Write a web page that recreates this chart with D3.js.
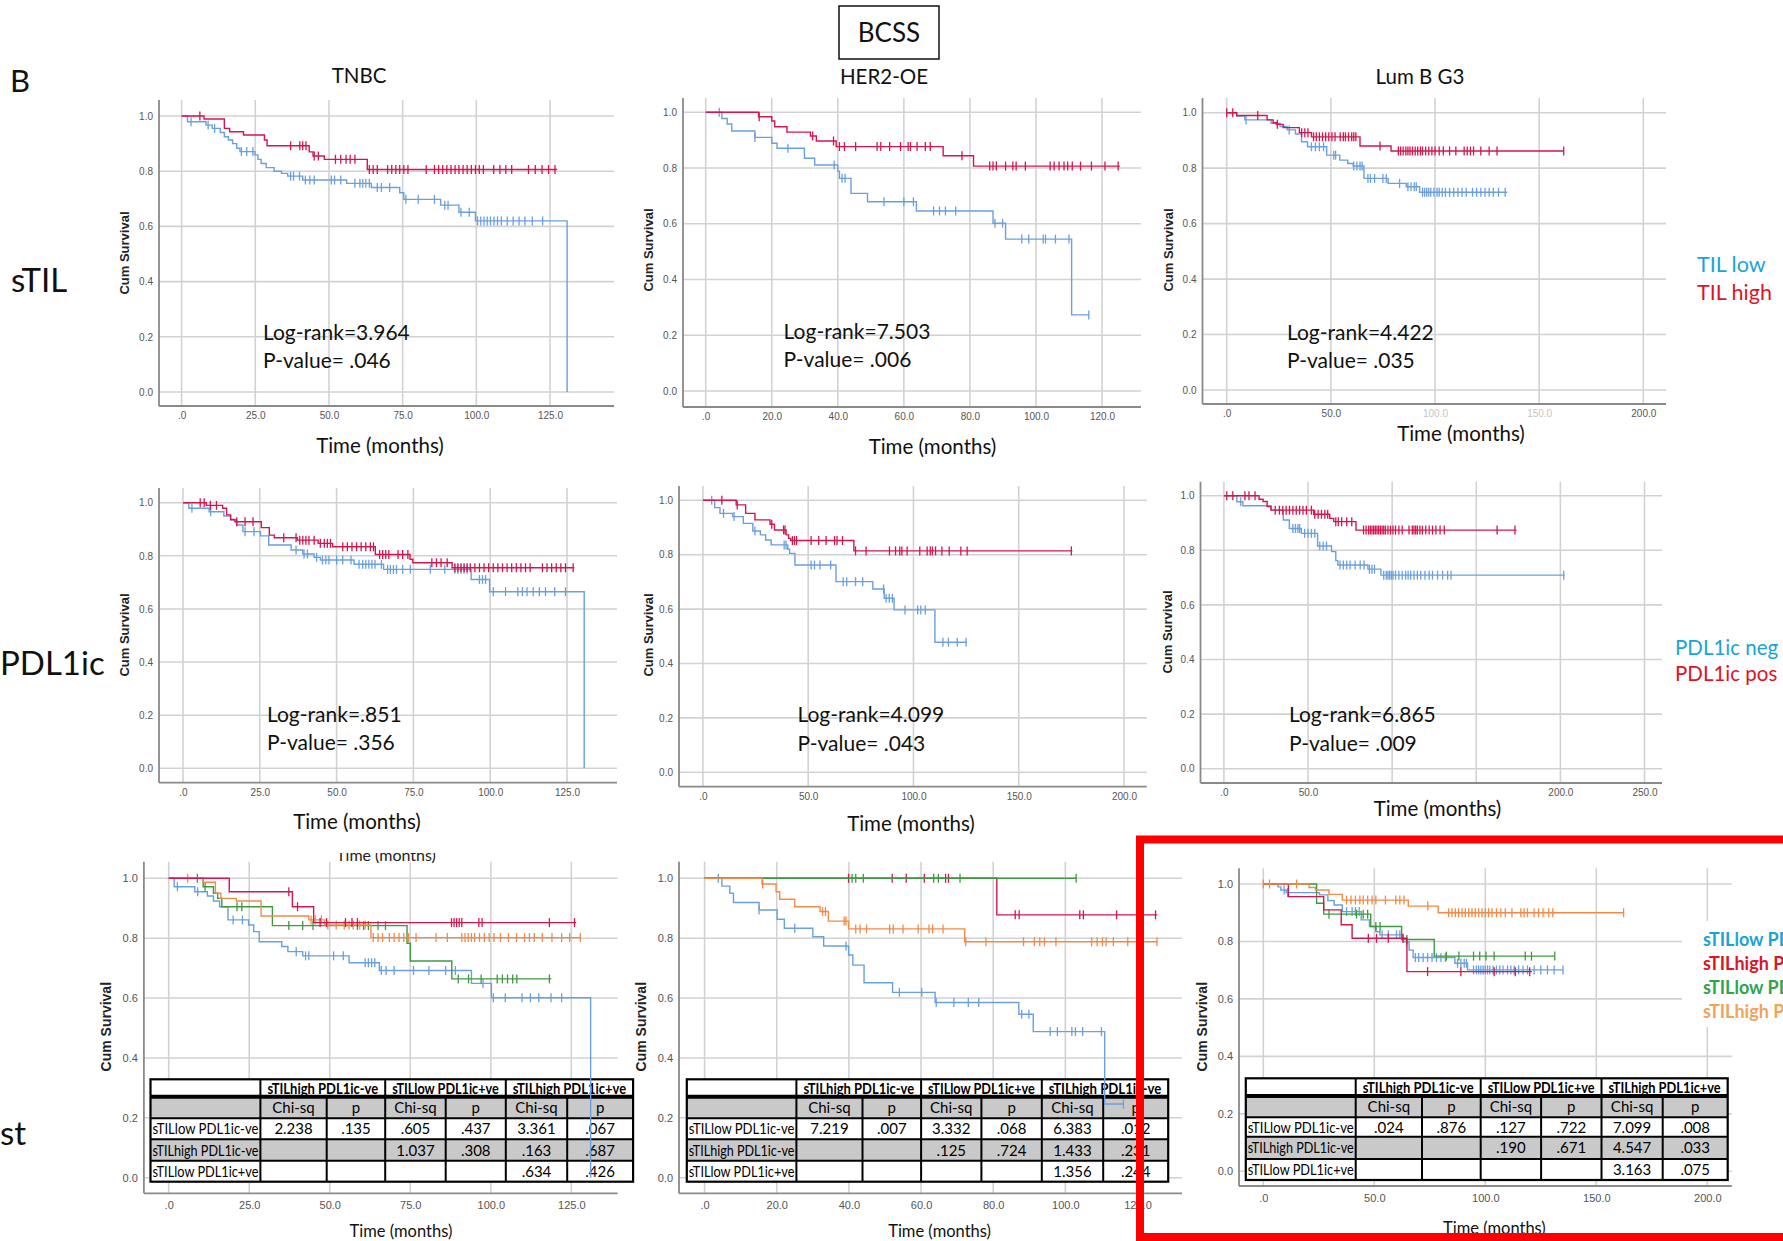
<!DOCTYPE html>
<html><head><meta charset="utf-8">
<script src="https://cdn.jsdelivr.net/npm/d3@7"></script>
<style>body{margin:0;background:#fff}svg{display:block}</style>
</head><body>
<svg id="c" width="1783" height="1241"></svg>
<script>
// ---------------- DATA ----------------
const subtypes = ["TNBC", "HER2-OE", "Lum B G3"];
const rowLabels = ["sTIL", "PDL1ic", "st"];
const logRank = ["3.964", "7.503", "4.422", ".851", "4.099", "6.865"];
const pValues = [".046", ".006", ".035", ".356", ".043", ".009"];
const legendTIL = ["TIL low", "TIL high"];
const legendPDL = ["PDL1ic neg", "PDL1ic pos"];
const legendCombo = ["sTILlow PDL1ic-ve", "sTILhigh PDL1ic-ve", "sTILlow PDL1ic+ve", "sTILhigh PDL1ic+ve"];
const tableGroups = ["sTILhigh PDL1ic-ve", "sTILlow PDL1ic+ve", "sTILhigh PDL1ic+ve"];
const tableGroupsC2 = ["sTILhigh PDL1ic-ve", "sTILlow PDL1ic+ve", "sTILhigh PDL1ic-ve"];
const tableSub = ["Chi-sq", "p", "Chi-sq", "p", "Chi-sq", "p"];
const tableRowNames = ["sTILlow PDL1ic-ve", "sTILhigh PDL1ic-ve", "sTILlow PDL1ic+ve"];
const tableC1 = [["2.238", ".135", ".605", ".437", "3.361", ".067"], ["", "", "1.037", ".308", ".163", ".687"], ["", "", "", "", ".634", ".426"]];
const tableC2 = [["7.219", ".007", "3.332", ".068", "6.383", ".012"], ["", "", ".125", ".724", "1.433", ".231"], ["", "", "", "", "1.356", ".244"]];
const tableC3 = [[".024", ".876", ".127", ".722", "7.099", ".008"], ["", "", ".190", ".671", "4.547", ".033"], ["", "", "", "", "3.163", ".075"]];

// Row 1 : sTIL
const A1_low_steps = [[0,1],[2,0.979],[8.3,0.967],[10.4,0.955],[13.1,0.94],[14.5,0.925],[15.9,0.913],[17.3,0.9],[18.7,0.883],[19.8,0.871],[24.9,0.859],[25.9,0.843],[27,0.828],[28.7,0.813],[31.4,0.8],[33.9,0.792],[36,0.782],[41.1,0.768],[56,0.756],[64.4,0.741],[74,0.722],[75.4,0.698],[87.9,0.677],[94.1,0.651],[99.7,0.62],[130.8,0]];
const A1_low_cens = [3.2,9,11.2,20.3,22.1,24.2,37,38,40,42,43.5,45,50.8,51.9,54,58.8,60.5,61.5,62.5,63.7,66.4,67.8,70.6,76.1,80.3,85.8,89.3,90.4,94.8,97.6,100.4,101.5,102.6,103.7,104.8,106,107.2,108.5,110.5,112.5,114.5,116.5,119,122.5];
const A1_low_end = 130.8;
const A1_high_steps = [[0,1],[7.6,0.989],[14.5,0.955],[16.3,0.943],[21,0.931],[28.1,0.913],[29,0.892],[43.3,0.87],[44.6,0.855],[48.4,0.843],[63,0.806]];
const A1_high_cens = [6.2,37,40.1,41.1,42.2,45,46.4,52.2,54,55.8,57.2,58.8,63.7,65,66.4,69.9,71.3,72.7,74,75.4,76.8,83,85.8,87.2,88.6,90,91.4,92.8,94.1,95.5,96.9,98.3,99.7,101,102.4,105.9,108,110,112,117.7,120,122.3,124.5,126.7];
const A1_high_end = 127.4;

const A2_low_steps = [[0,1],[4.9,0.978],[6.5,0.958],[7.9,0.933],[14.9,0.91],[20,0.889],[21.6,0.871],[29.9,0.835],[33,0.811],[40,0.789],[40.5,0.763],[44,0.709],[49,0.679],[63.8,0.646],[87,0.602],[90.8,0.545],[110.8,0.273]];
const A2_low_cens = [4.1,14.9,24.9,38.9,41.3,42.2,54,60,62.9,69,70.8,72.6,75.7,87.6,89.9,95.7,97.8,102.2,102.9,105.9,110,116];
const A2_low_end = 116;
const A2_high_steps = [[0,1],[16,0.984],[20,0.969],[20.9,0.948],[24.6,0.929],[31.7,0.915],[33.5,0.897],[39.5,0.877],[71.9,0.844],[81.1,0.807]];
const A2_high_cens = [16.2,32.4,38.7,40.5,42,45.4,51.9,53,55.7,59,61.3,62,64,66.5,68,77.6,86,87,88,90.8,93,94,96.8,104.3,105.5,107,108.5,109.6,111,113.5,116.8,120.9,124.9];
const A2_high_end = 125.4;

const A3_low_steps = [[0,1],[4.8,0.988],[8.7,0.974],[21.3,0.962],[25.6,0.95],[29,0.938],[33,0.923],[35.9,0.895],[38.8,0.877],[48,0.847],[54.3,0.829],[58.1,0.817],[60.7,0.808],[65.9,0.763],[77.5,0.745],[86.2,0.733],[92.6,0.713]];
const A3_low_cens = [9.3,30,40.7,42.6,44.5,46.5,51.4,52.3,61,62.5,64,65,67.8,69,71,75,76.6,83,87,88.5,90,91,94,95,96,97,98,99.5,101,102,103.5,105,107,109,111,113,115,118,120,122,124,126,128,130.5,133.7];
const A3_low_end = 134.7;
const A3_high_steps = [[0,1],[4.8,0.99],[19.4,0.974],[22.3,0.964],[23.8,0.958],[27.1,0.946],[34.9,0.928],[40.7,0.913],[64,0.88],[78.9,0.862]];
const A3_high_cens = [0,2.9,14.9,24.3,36,37.5,39,41.7,43,44.5,46,47.5,49,50.5,52,54.5,56,57,58.5,60,61,62,73.6,82.4,83.5,84.7,86,87,88,89.2,90.5,91.7,93,94,95.5,97,98.5,100,102,104,107,110,114,115.5,117,118.5,122,126,129.8,161.8];
const A3_high_end = 161.8;

// Row 2 : PDL1ic
const B1_neg_steps = [[0,1],[1.9,0.979],[8.5,0.966],[13.3,0.95],[15.5,0.935],[17.5,0.916],[19.5,0.891],[25.2,0.875],[27.9,0.841],[35.2,0.822],[39,0.807],[42.7,0.794],[44.7,0.784],[55.7,0.768],[65.3,0.749],[93.8,0.711],[99.8,0.665],[130.6,0]];
const B1_neg_cens = [2.9,9,20.2,23.1,36.8,39.4,40.5,43.5,45.4,46.5,47.5,50,52,54.7,57.3,58.5,59.5,60.5,61.5,62.5,64.6,66.6,67.5,68.5,69.5,71.5,74,80.5,85.2,88.5,89.5,90.5,91.5,92.5,96.5,97.5,98.5,101,105,109,110.5,112,114,116,118,121,124.5];
const B1_neg_end = 130.6;
const B1_pos_steps = [[0,1],[7.6,0.99],[12.9,0.979],[14.2,0.954],[15.5,0.937],[16.9,0.928],[25.5,0.906],[28.1,0.878],[29.7,0.868],[37.2,0.859],[44,0.847],[48.7,0.834],[62.6,0.805],[73.9,0.787],[74.8,0.774],[87.6,0.755]];
const B1_pos_cens = [5.6,6.9,8.9,10.9,17.5,20.2,22.8,32.8,36.8,38,39,40,41,42.7,44.7,46,47,48,52,53.5,55,56.5,58,59.5,61,62,64,65,66,67,70,71.5,73.2,81,82.5,84,86,88.5,89.5,90.5,91.5,92.5,93.5,95,96.5,98,99.5,101,102.5,104,105.5,107,108.5,110,111.5,113,117,118.5,120,121.5,123,124.5,127];
const B1_pos_end = 127.4;

const B2_neg_steps = [[0,1],[5.6,0.973],[8.1,0.952],[14.1,0.94],[19.2,0.915],[23.7,0.887],[27.3,0.873],[29.8,0.854],[32.4,0.836],[40.3,0.82],[41.2,0.805],[43.7,0.762],[63.2,0.701],[80.7,0.674],[86.1,0.64],[90.8,0.597],[110.2,0.478]];
const B2_neg_cens = [4.2,9.8,14.8,24.7,38.6,39.5,51.4,53,55.6,60.7,66.6,68.3,72.5,75.9,85.8,87,88.5,90,96,102,103.5,105.6,114,116.6,120.8,125];
const B2_neg_end = 125.4;
const B2_pos_steps = [[0,1],[15.8,0.983],[20.3,0.952],[24.7,0.928],[31.9,0.912],[34,0.891],[39.5,0.873],[40.7,0.86],[41.7,0.852],[71.7,0.814]];
const B2_pos_cens = [9,16.3,32.7,38.3,39,42.5,43.5,44.5,51.4,55,58.5,62.5,63.7,66.3,72.5,77.5,88.6,91.5,93.5,94.5,97,103,106.5,108,109,110.5,113.5,117,122.5,125.5,175];
const B2_pos_end = 175.5;

const B3_neg_steps = [[0,1],[7.7,0.978],[11.3,0.963],[28,0.947],[35.3,0.911],[38.9,0.88],[46,0.862],[55.7,0.816],[64,0.795],[66.5,0.762],[67.7,0.746],[85.6,0.731],[93.3,0.709]];
const B3_neg_cens = [10,41,42.5,44,45,48,50,52,54,57,59,61,69,71,73,75,78,81,83.3,86.5,88,89.5,95,96.5,97.5,98.5,99.5,100.5,102,104,106,108,109.5,111,113,115,117,119.5,122,124,127,130,133,135,202];
const B3_neg_end = 202.5;
const B3_pos_steps = [[0,1],[20.9,0.987],[23.3,0.979],[25.7,0.96],[28,0.947],[53.3,0.932],[62.9,0.917],[65.3,0.905],[78.5,0.874]];
const B3_pos_cens = [1.7,5.3,12.5,14.9,18.5,30.5,33,35,37,39,41,43,45,47,49,52,54,56,58,60,61.7,66.5,68,70,73,76,83,84.5,86,87,88,89,90,91,92,93,94,95,96,97.5,99,100.5,102,104,106,110,112,113,114,115,116.5,118,120,122,124,126,128.5,131,162.4,173];
const B3_pos_end = 174;

// Row 3 : combined groups
const C1_lowneg_steps = [[0,1],[1.7,0.972],[8.1,0.955],[12,0.941],[13.9,0.924],[15.8,0.905],[18.4,0.861],[24.8,0.844],[26.4,0.822],[28.1,0.788],[35.1,0.772],[37,0.755],[41.6,0.741],[56,0.718],[65.4,0.692],[94,0.649],[100.2,0.601],[131,0]];
const C1_lowneg_cens = [2.7,9,20,22.9,39.6,42.5,43.5,51.2,54.2,61,62,63,64,66,67.5,70,76,80.8,86,89,97.6,100.8,104.5,109.7,112.3,114.9,118.7,122];
const C1_lowneg_end = 131;
const C1_highneg_steps = [[0,1],[18.8,0.955],[38.4,0.905],[45,0.852]];
const C1_highneg_cens = [37.3,40,47,49,54.9,56.9,58.6,87.8,88.6,89.4,90.2,91,96.3,97.3,118.2,126];
const C1_highneg_end = 126.5;
const C1_lowpos_steps = [[0,1],[10.7,0.972],[13.9,0.95],[15.2,0.933],[16.5,0.905],[32.2,0.842],[74,0.783],[75,0.724],[87.9,0.664]];
const C1_lowpos_cens = [8.9,11.3,21.2,22.7,37.3,41.6,44.8,58.6,60.5,62,65,67.3,89.9,93.1,97,102,103.6,105.2,106.8,108.1,118.2];
const C1_lowpos_end = 118.8;
const C1_highpos_steps = [[0,1],[10.7,0.987],[14.5,0.95],[16.2,0.933],[21,0.924],[28.7,0.874],[43.5,0.861],[48.4,0.844],[62.8,0.802]];
const C1_highpos_cens = [5.9,44.2,45.5,47.4,49.4,52,54.5,56,57.3,59.3,61,63.5,65,66.4,68.5,70,71.5,73,74.5,76.8,83,86.5,91,92,93,94,95,96.5,98,99.5,101,103,105.5,108,110.5,112,113.5,116,119,122,124.5,127.8];
const C1_highpos_end = 128;

const C2_lowneg_steps = [[0,1],[4.8,0.974],[7,0.95],[8,0.919],[15.1,0.894],[20.1,0.863],[22.1,0.833],[30,0.805],[33,0.774],[39.9,0.744],[41.1,0.71],[44.2,0.651],[52.1,0.619],[63.9,0.585],[87.1,0.546],[91.1,0.488],[110.9,0.246]];
const C2_lowneg_cens = [3.8,15.1,25,39.2,54,60.2,64.2,69.1,73.1,76,87.9,89.9,95.8,97.8,101.8,102.8,104.8,110,116.1];
const C2_lowneg_end = 116.1;
const C2_highneg_steps = [[0,1],[81,0.878]];
const C2_highneg_cens = [39.9,52,55.9,60.9,66.8,67.6,86.1,87.2,104,105,114.2,125];
const C2_highneg_end = 125.5;
const C2_lowpos_steps = [[0,1]];
const C2_lowpos_cens = [40.9,41.9,44,63.5,64.8,70.8,103];
const C2_lowpos_end = 103;
const C2_highpos_steps = [[0,1],[15.9,0.981],[19.8,0.955],[20.8,0.93],[25,0.905],[32,0.889],[34.3,0.857],[39.9,0.831],[72.1,0.788]];
const C2_highpos_cens = [16.1,32.7,33.5,38.7,39.2,41.9,43.1,44.9,51.3,52.3,55,59.2,62.2,63.2,66.1,72.4,78,88.4,91.4,92.9,94.2,97.4,107.3,108.8,110.3,111.3,113.3,117.3,125.4];
const C2_highpos_end = 125.5;

const C3_lowneg_steps = [[0,1],[6.6,0.99],[7.9,0.979],[10.3,0.97],[25.3,0.962],[29.1,0.942],[31.9,0.927],[35.6,0.904],[44.1,0.875],[47.8,0.852],[50.7,0.834],[52.5,0.823],[62.9,0.799],[65.7,0.77],[67.5,0.744],[86.3,0.724],[92,0.701]];
const C3_lowneg_cens = [9.4,11,37.5,40,41.5,43.2,53.5,56.3,60,61.5,64.5,68.5,70,72,74,76,78,80,82,87.5,89,90.5,91.5,94.7,96,97,98,99,100,101,102,103.5,105,106.5,108,110,111.5,113,115,117,119,122,125,128,131,135];
const C3_lowneg_end = 135;
const C3_highneg_steps = [[0,1],[11.3,0.956],[27.2,0.91],[35.1,0.858],[40,0.811],[64.7,0.695]];
const C3_highneg_cens = [47.3,51,56.3,62.9,74,89,104,113.5,120];
const C3_highneg_end = 121;
const C3_lowpos_steps = [[0,1],[24,0.933],[27.2,0.895],[48.4,0.852],[62.3,0.807],[77,0.749]];
const C3_lowpos_cens = [29.6,42,45,47,50.7,52.6,64.7,82.5,88.1,94.7,97.5,100.3,104,118,120.8,131.3];
const C3_lowpos_end = 131.3;
const C3_highpos_steps = [[0,1],[20.6,0.988],[23.5,0.979],[29.6,0.964],[35.6,0.944],[65.3,0.923],[78.8,0.9]];
const C3_highpos_cens = [0,2.8,15,37.5,39.5,41.5,43.5,45,47,49,50.7,55,59.7,61.5,63.4,74.1,83.5,85,86.5,88,89.5,91,92.5,94,95.5,97,98.5,100,101.5,103,105,107,109,112,116,117.5,119,122,124,126,128.5,130.4,162.3];
const C3_highpos_end = 162.3;

const yTickVals = [0, 0.2, 0.4, 0.6, 0.8, 1.0];

// ---------------- STYLE ----------------
const COL = {blue: "#6a9fe0", red: "#d3164e", green: "#3f9a3f", orange: "#f28a48"};
const LEG = {cyan: "#1ba3d8", red: "#dc1424", green: "#2ea44f", orange: "#f3a25c"};
const MAIN_FONT = "Lato, 'Open Sans', sans-serif";
const TICK_FONT = "'Liberation Sans Narrow', 'Arial Narrow', 'Liberation Sans', Arial, sans-serif";

// ---------------- LAYOUT ----------------
const P = {
  A1: {axisX:159, top:100, bottom:406, right:614, xd:[0,125], xr:[181.6,550], yr:[392,116], xt:[0,25,50,75,100,125], ylab:[124.5,253], xlab:[380,453,20.5], lr:[263,340,368]},
  A2: {axisX:683, top:98, bottom:407, right:1141, xd:[0,120], xr:[705.7,1102], yr:[391,112.3], xt:[0,20,40,60,80,100,120], ylab:[648.6,250], xlab:[932.5,454,20.5], lr:[783.6,339,367]},
  A3: {axisX:1202.5, top:98, bottom:404, right:1666, xd:[0,200], xr:[1226.7,1643.3], yr:[390,112.7], xt:[0,50,100,150,200], faint:[100,150], ylab:[1168,250], xlab:[1461,441,20.5], lr:[1287,340,368]},
  B1: {axisX:159, top:488, bottom:782.7, right:617, xd:[0,125], xr:[183,567], yr:[768.3,502.7], xt:[0,25,50,75,100,125], ylab:[124.5,635], xlab:[357,829,20.5], lr:[267,722,750]},
  B2: {axisX:679, top:486, bottom:786.7, right:1146.8, xd:[0,200], xr:[702.9,1124], yr:[772.3,500.3], xt:[0,50,100,150,200], ylab:[648.6,635], xlab:[911,831,20.5], lr:[797.5,722,750.7]},
  B3: {axisX:1200.5, top:481.7, bottom:783, right:1662, xd:[0,250], xr:[1223.9,1644.5], yr:[768.7,495.7], xt:[0,50,100,150,200,250], hide:[100,150], ylab:[1167,632], xlab:[1437.5,816,20.5], lr:[1289,722,751]},
  C1: {axisX:143.9, top:861.7, bottom:1193.3, right:617.7, xd:[0,125], xr:[168.7,571.3], yr:[1177.7,878.3], xt:[0,25,50,75,100,125], ylab:[105.7,1026.7], xlab:[401,1237,16.5],
       tcols:[150.5,260.4,326.7,385.2,445.7,505.8,567.2,633.1], trows:[1079.3,1096.7,1118.3,1139.3,1160.7,1181.7]},
  C2: {axisX:679, top:861.7, bottom:1193.3, right:1182, xd:[0,120], xr:[704.6,1137.5], yr:[1177.7,878.3], xt:[0,20,40,60,80,100,120], ylab:[641.4,1026.7], xlab:[939.6,1237,16.5],
       tcols:[686.8,796.4,862.5,921.1,981.4,1041.8,1103.2,1168.2], trows:[1079.3,1096.7,1118.3,1139.3,1160.7,1181.7]},
  C3: {axisX:1239, top:868.3, bottom:1186, right:1731.8, xd:[0,200], xr:[1263.3,1707.3], yr:[1171.3,884], xt:[0,50,100,150,200], ylab:[1201.6,1026.7], xlab:[1494.4,1234,16.5],
       tcols:[1245.8,1355.7,1422,1480.7,1541.1,1601.5,1662.7,1727.7], trows:[1078.3,1096,1117.3,1136.7,1159,1180]}
};

const svg = d3.select("#c");
svg.append("rect").attr("width", 1783).attr("height", 1241).attr("fill", "#fff");

function survAt(steps, t) {
  let s = steps[0][1];
  for (const d of steps) { if (d[0] <= t) s = d[1]; else break; }
  return s;
}

function drawTable(g, L, groups, data) {
  const c = L.tcols, r = L.trows;
  const tg = g.append("g");
  tg.append("rect").attr("x", c[0]).attr("y", r[1]).attr("width", c[7]-c[0]).attr("height", r[2]-r[1]).attr("fill", "#c9c9c9");
  tg.append("rect").attr("x", c[0]).attr("y", r[3]).attr("width", c[7]-c[0]).attr("height", r[4]-r[3]).attr("fill", "#c9c9c9");
  [[r[0],r[1]],[r[2],r[3]],[r[4],r[5]]].forEach(([a,b]) =>
    tg.append("rect").attr("x", c[0]).attr("y", a).attr("width", c[7]-c[0]).attr("height", b-a).attr("fill", "#fff"));
  groups.forEach((txt, i) => {
    const x0 = c[1+2*i], x1 = c[3+2*i];
    tg.append("text").attr("x", (x0+x1)/2).attr("y", (r[0]+r[1])/2 + 5.5).attr("text-anchor", "middle")
      .attr("font-family", MAIN_FONT).attr("font-weight", "bold").attr("font-size", 15)
      .attr("textLength", x1-x0-14).attr("lengthAdjust", "spacingAndGlyphs").text(txt);
  });
  tableSub.forEach((txt, i) => {
    tg.append("text").attr("x", (c[1+i]+c[2+i])/2).attr("y", (r[1]+r[2])/2 + 5.5).attr("text-anchor", "middle")
      .attr("font-family", MAIN_FONT).attr("font-size", 15).text(txt);
  });
  tableRowNames.forEach((txt, j) => {
    const yy = (r[2+j]+r[3+j])/2 + 5.5;
    tg.append("text").attr("x", c[0]+2).attr("y", yy).attr("font-family", MAIN_FONT).attr("font-size", 15)
      .attr("textLength", c[1]-c[0]-4).attr("lengthAdjust", "spacingAndGlyphs").text(txt);
    data[j].forEach((v, i) => {
      if (!v) return;
      tg.append("text").attr("x", (c[1+i]+c[2+i])/2).attr("y", yy).attr("text-anchor", "middle")
        .attr("font-family", MAIN_FONT).attr("font-size", 15).text(v);
    });
  });
  const ln = (x1,y1,x2,y2,w) => tg.append("line").attr("x1",x1).attr("y1",y1).attr("x2",x2).attr("y2",y2).attr("stroke","#000").attr("stroke-width",w);
  [r[2], r[3], r[4]].forEach(yy => ln(c[0], yy, c[7], yy, 2));
  ln(c[0], r[1], c[7], r[1], 4);
  [1,3,5].forEach(i => ln(c[i], r[0], c[i], r[1], 2));
  [1,2,3,4,5,6].forEach(i => ln(c[i], r[1], c[i], r[5], 2));
  tg.append("rect").attr("x", c[0]).attr("y", r[0]).attr("width", c[7]-c[0]).attr("height", r[5]-r[0])
    .attr("fill", "none").attr("stroke", "#000").attr("stroke-width", 2.2);
}

function drawPanel(key, curves, opts = {}) {
  const L = P[key];
  const g = svg.append("g");
  const x = d3.scaleLinear().domain(L.xd).range(L.xr);
  const y = d3.scaleLinear().domain([0, 1]).range(L.yr);
  const big = key[0] === "C";
  g.selectAll(".hg").data(yTickVals).join("line")
    .attr("x1", L.axisX).attr("x2", L.right).attr("y1", d => y(d)).attr("y2", d => y(d))
    .attr("stroke", "#d2d2d2").attr("stroke-width", 1.6);
  g.selectAll(".vg").data(L.xt).join("line")
    .attr("x1", d => x(d)).attr("x2", d => x(d)).attr("y1", L.top).attr("y2", L.bottom)
    .attr("stroke", "#d2d2d2").attr("stroke-width", 1.6);
  g.append("line").attr("x1", L.axisX).attr("x2", L.axisX).attr("y1", L.top).attr("y2", L.bottom).attr("stroke", "#8a8a8a").attr("stroke-width", 1.8);
  g.append("line").attr("x1", L.axisX).attr("x2", L.right).attr("y1", L.bottom).attr("y2", L.bottom).attr("stroke", "#8a8a8a").attr("stroke-width", 1.8);
  const fs = big ? 11 : 10;
  const ya = g.append("g").attr("transform", `translate(${L.axisX - 2},0)`)
    .call(d3.axisLeft(y).tickValues(yTickVals).tickSize(0).tickPadding(4).tickFormat(d3.format(".1f")));
  ya.select(".domain").remove();
  ya.selectAll("text").attr("font-family", TICK_FONT).attr("font-size", fs).attr("fill", "#555");
  const xvals = L.xt.filter(v => !(L.hide || []).includes(v));
  const xa = g.append("g").attr("transform", `translate(0,${L.bottom})`)
    .call(d3.axisBottom(x).tickValues(xvals).tickSize(0).tickPadding(big ? 8 : 6).tickFormat(v => v === 0 ? ".0" : d3.format(".1f")(v)));
  xa.select(".domain").remove();
  xa.selectAll("text").attr("font-family", TICK_FONT).attr("font-size", fs).attr("fill", "#555")
    .attr("opacity", d => (L.faint || []).includes(d) ? 0.35 : 1);
  g.append("text").attr("transform", `translate(${L.ylab[0]},${L.ylab[1]}) rotate(-90)`).attr("text-anchor", "middle")
    .attr("dy", "0.35em").attr("font-family", "'Liberation Sans', Arial, sans-serif").attr("font-weight", "bold")
    .attr("font-size", big ? 14 : 13).attr("fill", "#222").text("Cum Survival");
  g.append("text").attr("x", L.xlab[0]).attr("y", L.xlab[1]).attr("text-anchor", "middle")
    .attr("font-family", MAIN_FONT).attr("font-size", L.xlab[2]).attr("fill", "#111").text("Time (months)");
  if (opts.table) drawTable(g, L, opts.groups, opts.table);
  const line = d3.line().x(d => x(d[0])).y(d => y(d[1])).curve(d3.curveStepAfter);
  curves.forEach(cv => {
    const last = cv.steps[cv.steps.length - 1];
    const pts = cv.steps.concat(cv.end > last[0] ? [[cv.end, last[1]]] : []);
    g.append("path").attr("d", line(pts)).attr("fill", "none").attr("stroke", cv.color).attr("stroke-width", 1.4);
    g.selectAll(null).data(cv.cens).join("line")
      .attr("x1", t => x(t)).attr("x2", t => x(t))
      .attr("y1", t => y(survAt(cv.steps, t)) - 4.5).attr("y2", t => y(survAt(cv.steps, t)) + 4.5)
      .attr("stroke", cv.color).attr("stroke-width", 1.3);
  });
  if (opts.stat !== undefined) {
    g.append("text").attr("x", L.lr[0]).attr("y", L.lr[1]).attr("font-family", MAIN_FONT).attr("font-size", 21).attr("fill", "#111")
      .text("Log-rank=" + logRank[opts.stat]);
    g.append("text").attr("x", L.lr[0]).attr("y", L.lr[2]).attr("font-family", MAIN_FONT).attr("font-size", 21).attr("fill", "#111")
      .text("P-value= " + pValues[opts.stat]);
  }
  return g;
}

const two = (a, b) => [
  {steps: a.steps, cens: a.cens, end: a.end, color: COL.blue},
  {steps: b.steps, cens: b.cens, end: b.end, color: COL.red}
];

drawPanel("A1", two({steps:A1_low_steps,cens:A1_low_cens,end:A1_low_end},{steps:A1_high_steps,cens:A1_high_cens,end:A1_high_end}), {stat:0});
drawPanel("A2", two({steps:A2_low_steps,cens:A2_low_cens,end:A2_low_end},{steps:A2_high_steps,cens:A2_high_cens,end:A2_high_end}), {stat:1});
drawPanel("A3", two({steps:A3_low_steps,cens:A3_low_cens,end:A3_low_end},{steps:A3_high_steps,cens:A3_high_cens,end:A3_high_end}), {stat:2});
drawPanel("B1", two({steps:B1_neg_steps,cens:B1_neg_cens,end:B1_neg_end},{steps:B1_pos_steps,cens:B1_pos_cens,end:B1_pos_end}), {stat:3});
drawPanel("B2", two({steps:B2_neg_steps,cens:B2_neg_cens,end:B2_neg_end},{steps:B2_pos_steps,cens:B2_pos_cens,end:B2_pos_end}), {stat:4});
drawPanel("B3", two({steps:B3_neg_steps,cens:B3_neg_cens,end:B3_neg_end},{steps:B3_pos_steps,cens:B3_pos_cens,end:B3_pos_end}), {stat:5});

drawPanel("C1", [
  {steps:C1_lowneg_steps, cens:C1_lowneg_cens, end:C1_lowneg_end, color:COL.blue},
  {steps:C1_lowpos_steps, cens:C1_lowpos_cens, end:C1_lowpos_end, color:COL.green},
  {steps:C1_highpos_steps, cens:C1_highpos_cens, end:C1_highpos_end, color:COL.orange},
  {steps:C1_highneg_steps, cens:C1_highneg_cens, end:C1_highneg_end, color:COL.red}
], {table: tableC1, groups: tableGroups});
drawPanel("C2", [
  {steps:C2_lowneg_steps, cens:C2_lowneg_cens, end:C2_lowneg_end, color:COL.blue},
  {steps:C2_highneg_steps, cens:C2_highneg_cens, end:C2_highneg_end, color:COL.red},
  {steps:C2_lowpos_steps, cens:C2_lowpos_cens, end:C2_lowpos_end, color:COL.green},
  {steps:C2_highpos_steps, cens:C2_highpos_cens, end:C2_highpos_end, color:COL.orange}
], {table: tableC2, groups: tableGroupsC2});
drawPanel("C3", [
  {steps:C3_lowneg_steps, cens:C3_lowneg_cens, end:C3_lowneg_end, color:COL.blue},
  {steps:C3_lowpos_steps, cens:C3_lowpos_cens, end:C3_lowpos_end, color:COL.green},
  {steps:C3_highneg_steps, cens:C3_highneg_cens, end:C3_highneg_end, color:COL.red},
  {steps:C3_highpos_steps, cens:C3_highpos_cens, end:C3_highpos_end, color:COL.orange}
], {table: tableC3, groups: tableGroups});

// ---------------- ANNOTATIONS ----------------
const T = (x, y, txt, size, opt = {}) => svg.append("text").attr("x", x).attr("y", y)
  .attr("font-family", MAIN_FONT).attr("font-size", size).attr("fill", opt.fill || "#111")
  .attr("font-weight", opt.bold ? "bold" : null).attr("text-anchor", opt.anchor || "start").text(txt);

svg.append("rect").attr("x", 839).attr("y", 6).attr("width", 100).attr("height", 53).attr("fill", "#fff").attr("stroke", "#111").attr("stroke-width", 1.5);
T(889, 42, "BCSS", 26, {anchor: "middle"});
T(10, 92, "B", 31);
[[359, 83], [884, 84], [1420, 84]].forEach((p, i) => T(p[0], p[1], subtypes[i], 20.5, {anchor: "middle"}));
T(11, 292, rowLabels[0], 33);
T(0, 675, rowLabels[1], 33);
T(0, 1145, rowLabels[2], 33);

// cut-off axis title fragment above row 3
svg.append("clipPath").attr("id", "cut").append("rect").attr("x", 0).attr("y", 853).attr("width", 640).attr("height", 12);
svg.append("text").attr("clip-path", "url(#cut)").attr("x", 386).attr("y", 861).attr("text-anchor", "middle")
  .attr("font-family", MAIN_FONT).attr("font-size", 16).attr("fill", "#222").text("Time (months)");

legendTIL.forEach((t, i) => T(1697, 272 + i * 28, t, 21.5, {fill: i ? LEG.red : LEG.cyan}));
legendPDL.forEach((t, i) => T(1675, 655 + i * 26, t, 20.5, {fill: i ? LEG.red : LEG.cyan}));
svg.append("rect").attr("x", 1682).attr("y", 921).attr("width", 101).attr("height", 106).attr("fill", "#fff");
legendCombo.forEach((t, i) => T(1703, 946 + i * 24, t, 18, {fill: [LEG.cyan, LEG.red, LEG.green, LEG.orange][i], bold: true}));

svg.append("rect").attr("x", 1140).attr("y", 839.5).attr("width", 700).attr("height", 397.5)
  .attr("fill", "none").attr("stroke", "#ff0000").attr("stroke-width", 8);
</script>
</body></html>
